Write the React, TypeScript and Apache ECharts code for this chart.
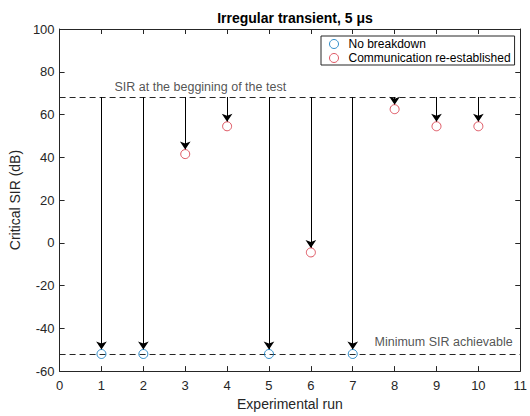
import React, { useEffect, useRef } from "react";
import * as echarts from "echarts";

const runsNoBreakdown = [1, 2, 5, 7];
const sirNoBreakdown = [-52, -52, -52, -52];
const runsReestablished = [3, 4, 6, 8, 9, 10];
const sirReestablished = [41.5, 54.5, -4.5, 62.5, 54.5, 54.5];
const initialSIR = 68.2;
const minimumSIR = -52;

const BLUE = "#0072BD";
const RED = "#D6303F";
const INK = "#262626";
const FONT = "Liberation Sans, Arial, sans-serif";

export default function App() {
  const ref = useRef<HTMLDivElement>(null);
  useEffect(() => {
    if (!ref.current) return;
    const chart = echarts.init(ref.current, undefined, { renderer: "svg" });
    const markerGap = 2.1;
    const arrows = [
      ...runsNoBreakdown.map((x, i) => [[x, initialSIR], [x, sirNoBreakdown[i] + markerGap]]),
      ...runsReestablished.map((x, i) => [[x, initialSIR], [x, sirReestablished[i] + markerGap]]),
    ].map((c) => ({ coords: c }));
    const axisCommon = {
      type: "value" as const,
      axisLine: { show: true, onZero: false, lineStyle: { color: INK, width: 1 } },
      axisTick: { show: true, inside: true, length: 5, lineStyle: { color: INK } },
      splitLine: { show: false },
    };
    chart.setOption({
      animation: false,
      backgroundColor: "#fff",
      textStyle: { fontFamily: FONT },
      title: {
        text: "Irregular transient, 5 μs",
        left: 290,
        textAlign: "center",
        top: 6,
        textStyle: { fontSize: 14, fontWeight: "bold", color: "#000", fontFamily: FONT },
      },
      legend: {
        orient: "vertical",
        left: 321,
        top: 36,
        padding: [2, 4, 1, 8],
        itemGap: 2,
        itemWidth: 11,
        itemHeight: 9,
        borderColor: INK,
        borderWidth: 1,
        backgroundColor: "#fff",
        textStyle: { fontSize: 12, color: "#000", fontFamily: FONT, padding: [0, 0, 0, 4] },
        data: [
          { name: "No breakdown", icon: "circle", itemStyle: { color: "transparent", borderColor: BLUE, borderWidth: 1 } },
          { name: "Communication re-established", icon: "circle", itemStyle: { color: "transparent", borderColor: RED, borderWidth: 1 } },
        ],
      },
      grid: { left: 58, right: 9, top: 29, bottom: 39, show: false },
      xAxis: [
        {
          ...axisCommon,
          min: 0,
          max: 11,
          interval: 1,
          position: "bottom",
          name: "Experimental run",
          nameLocation: "middle",
          nameGap: 24,
          nameTextStyle: { fontSize: 14, color: INK, fontFamily: FONT },
          axisLabel: { fontSize: 13, color: INK, margin: 8, fontFamily: FONT },
        },
        {
          ...axisCommon,
          min: 0,
          max: 11,
          interval: 1,
          position: "top",
          axisLabel: { show: false },
        },
      ],
      yAxis: [
        {
          ...axisCommon,
          min: -60,
          max: 100,
          interval: 20,
          position: "left",
          name: "Critical SIR (dB)",
          nameLocation: "middle",
          nameGap: 27,
          nameTextStyle: { fontSize: 14, color: INK, fontFamily: FONT },
          axisLabel: { fontSize: 13, color: INK, margin: 5, fontFamily: FONT },
        },
        {
          ...axisCommon,
          min: -60,
          max: 100,
          interval: 20,
          position: "right",
          axisLabel: { show: false },
        },
      ],
      series: [
        {
          type: "lines",
          coordinateSystem: "cartesian2d",
          silent: true,
          data: [
            { coords: [[0, initialSIR], [11, initialSIR]] },
            { coords: [[0, minimumSIR], [11, minimumSIR]] },
          ],
          lineStyle: { color: INK, width: 1, type: [6, 4], opacity: 1 },
          symbol: "none",
          z: 1,
        },
        {
          type: "lines",
          coordinateSystem: "cartesian2d",
          silent: true,
          data: arrows,
          symbol: ["none", "arrow"],
          symbolSize: [7, 8],
          lineStyle: { color: "#000", width: 1, opacity: 1 },
          itemStyle: { color: "#000" },
          z: 2,
        },
        {
          name: "No breakdown",
          type: "scatter",
          data: runsNoBreakdown.map((x, i) => [x, sirNoBreakdown[i]]),
          symbol: "circle",
          symbolSize: 9,
          itemStyle: { color: "transparent", borderColor: BLUE, borderWidth: 1 },
          z: 3,
        },
        {
          name: "Communication re-established",
          type: "scatter",
          data: runsReestablished.map((x, i) => [x, sirReestablished[i]]),
          symbol: "circle",
          symbolSize: 9,
          itemStyle: { color: "transparent", borderColor: RED, borderWidth: 1 },
          z: 3,
        },
        {
          type: "scatter",
          silent: true,
          symbolSize: 0,
          data: [
            { value: [3.36, initialSIR], label: { formatter: "SIR at the beggining of the test" } },
            { value: [9.17, minimumSIR], label: { formatter: "Minimum SIR achievable", distance: 5 } },
          ],
          label: { show: true, position: "top", distance: 3, fontSize: 12.5, color: INK, fontFamily: FONT },
          z: 4,
        },
      ],
    });
    return () => chart.dispose();
  }, []);
  return <div ref={ref} style={{ width: 530, height: 416, position: "absolute", left: 0, top: 0 }} />;
}
